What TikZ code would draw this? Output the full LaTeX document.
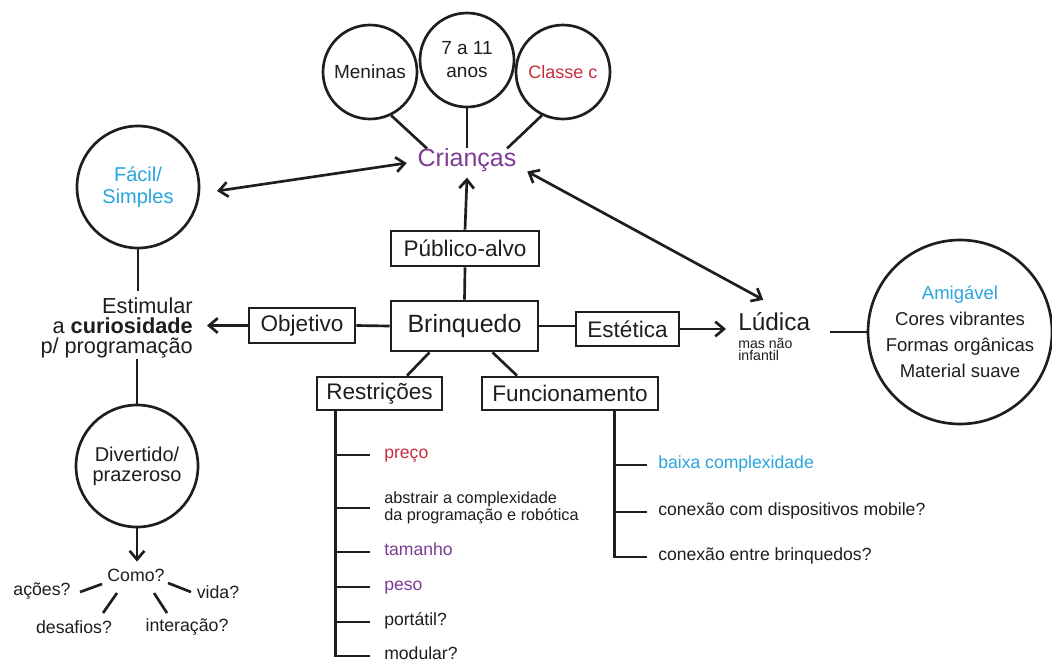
\documentclass[tikz,border=0pt]{standalone}
\usepackage{fontspec}
\setmainfont{Liberation Sans}
\usetikzlibrary{calc,arrows.meta}
\definecolor{ink}{RGB}{30,30,30}
\definecolor{purp}{RGB}{125,60,150}
\definecolor{redc}{RGB}{200,45,65}
\definecolor{cyanc}{RGB}{40,165,220}
\tikzset{
 conn/.style={draw=ink, line width=2pt},
 arr/.style={conn, -{Straight Barb[length=6.5pt,width=11pt]}},
 darr/.style={conn, {Straight Barb[length=6.5pt,width=11pt]}-{Straight Barb[length=6.5pt,width=11pt]}},
 box/.style={draw=ink, line width=2pt, inner sep=0pt, text=ink, font=\fontsize{16.9}{20}\selectfont},
 circ/.style={circle, draw=ink, line width=2pt, inner sep=0pt, text=ink, align=center},
 item/.style={anchor=west, inner sep=0pt, text=ink, font=\fontsize{13.2}{15}\selectfont, text height=0.72em, text depth=0.2em},
 qtext/.style={inner sep=0pt, text=ink, font=\fontsize{13.3}{15}\selectfont, text height=0.72em, text depth=0.2em},
}
\begin{document}
\begin{tikzpicture}[x=0.75pt,y=-0.75pt]
\fill[white] (0,0) rectangle (1052,661);
\useasboundingbox (0,0) rectangle (1052,661);

% top circles and target
\node[circ, minimum size=70.5pt, font=\fontsize{14.25}{17}\selectfont] (men) at (370,72) {Meninas};
\node[circ, minimum size=70.5pt, font=\fontsize{14.25}{17.25}\selectfont] (sev) at (467,60) {7 a 11\\anos};
\node[circ, minimum size=70.5pt, font=\fontsize{13.5}{16}\selectfont, text=redc] (cla) at (563,72) {Classe c};
\node[text=purp, font=\fontsize{18.75}{22}\selectfont, inner xsep=8pt, inner ysep=6pt, text height=0.75em, text depth=0.2em] (cri) at (467,163) {Crianças};

% left side
\node[circ, minimum size=91.5pt, text=cyanc, font=\fontsize{15}{16.5}\selectfont] (fac) at (138,187) {Fácil/\\Simples};
\node[anchor=east, align=right, text=ink, inner sep=0pt, font=\fontsize{16.3}{15}\selectfont] (stim) at (193,328) {Estimular\\a \textbf{curiosidade}\\p/ programação};
\node[circ, minimum size=91.5pt, font=\fontsize{15}{15}\selectfont] (div) at (137,466) {Divertido/\\prazeroso};
\node[qtext] (como) at (136,578) {Como?};
\node[qtext] (aco) at (42,592) {ações?};
\node[qtext] (vid) at (218,595) {vida?};
\node[qtext] (des) at (74,630) {desafios?};
\node[qtext] (int) at (187,628) {interação?};

% central boxes
\node[box, minimum width=111pt, minimum height=26.25pt] (pub) at (465,248.5) {Público-alvo};
\node[box, minimum width=110.25pt, minimum height=37.5pt, font=\fontsize{18.75}{22}\selectfont] (bri) at (464.5,326) {Brinquedo};
\node[box, minimum width=79.5pt, minimum height=26.25pt] (obj) at (302,325.5) {Objetivo};
\node[box, minimum width=77.25pt, minimum height=25.5pt] (esb) at (627.5,329) {Estética};
\node[box, minimum width=93.75pt, minimum height=24.75pt] (res) at (379.5,393.5) {Restrições};
\node[box, minimum width=132pt, minimum height=24.75pt] (fun) at (570,393.5) {Funcionamento};

% right side
\node[text=ink, inner sep=0pt, anchor=base west, font=\fontsize{18.3}{22}\selectfont] (lud) at (738,330) {Lúdica};
\node[anchor=north west, align=left, inner sep=0pt, text=ink, font=\fontsize{10.6}{9.3}\selectfont] (mas) at (738,338) {mas não\\infantil};
\node[circ, minimum size=138pt, font=\fontsize{13.9}{19.5}\selectfont] (ami) at (960,332) {\textcolor{cyanc}{Amigável}\\Cores vibrantes\\Formas orgânicas\\Material suave};

% Restrições items
\coordinate (rt) at ($(res.south west)+(20,0)$);
\node[item, text=redc] (r1) at (384,455) {preço};
\node[anchor=west, align=left, inner sep=0pt, text=ink, font=\fontsize{12.2}{12.75}\selectfont] (r2) at (384,508) {abstrair a complexidade\\da programação e robótica};
\node[item, text=purp] (r3) at (384,552) {tamanho};
\node[item, text=purp] (r4) at (384,587) {peso};
\node[item] (r5) at (384,622) {portátil?};
\node[item] (r6) at (384,656) {modular?};

% Funcionamento items
\coordinate (ft) at ($(fun.south west)+(134,0)$);
\node[item, text=cyanc] (f1) at (658,465) {baixa complexidade};
\node[item] (f2) at (658,512) {conexão com dispositivos mobile?};
\node[item] (f3) at (658,557) {conexão entre brinquedos?};

% connectors
\draw[conn] (men.-64) -- (cri.160);
\draw[conn] (sev.south) -- (cri.north);
\draw[conn] (cla.244) -- (cri.20);
\draw[darr] ($(fac)+(79,4)$) -- (cri.west);
\draw[darr] (cri.-8) -- ($(lud.north)+(-11,-12)$);
\draw[arr] (pub.north) -- (cri.south);
\draw[conn] (pub.south) -- (bri.north);
\draw[conn] (obj.east) -- (bri.west);
\draw[conn] (bri.east) -- (bri.east -| esb.west);
\draw[arr, shorten >=10.5pt] (obj.west) -- (obj.west -| stim.east);
\draw[arr, shorten >=9pt] (esb.east) -- (esb.east -| lud.west);
\draw[conn, shorten <=15pt] (lud.east |- ami.west) -- (ami.west);
\draw[conn] (fac.south) -- ($(fac.south)+(0,42)$);
\draw[conn] (div.north) -- ($(div.north)+(0,-45)$);
\draw[arr, shorten >=7.5pt] (div.south) -- (div.south |- como.north);
\draw[conn] ($(como)+(-56,14)$) -- ($(como)+(-34,6)$);
\draw[conn] ($(como)+(32,5)$) -- ($(como)+(55,14)$);
\draw[conn] ($(como)+(-19,15)$) -- ($(como)+(-33,35)$);
\draw[conn] ($(como)+(18,15)$) -- ($(como)+(31,35)$);
\draw[conn] ($(bri.south)+(-35,0)$) -- ($(res.north)+(27.5,0)$);
\draw[conn] ($(bri.south)+(28,0)$) -- ($(fun.north)+(-53,0)$);

\draw[conn, shorten >=10.5pt] (rt) |- (r6.west);
\foreach \n in {r1,r2,r3,r4,r5}{\draw[conn, shorten >=10.5pt] (rt |- \n.west) -- (\n.west);}
\draw[conn, shorten >=8.25pt] (ft) |- (f3.west);
\foreach \n in {f1,f2}{\draw[conn, shorten >=8.25pt] (ft |- \n.west) -- (\n.west);}
\end{tikzpicture}
\end{document}
